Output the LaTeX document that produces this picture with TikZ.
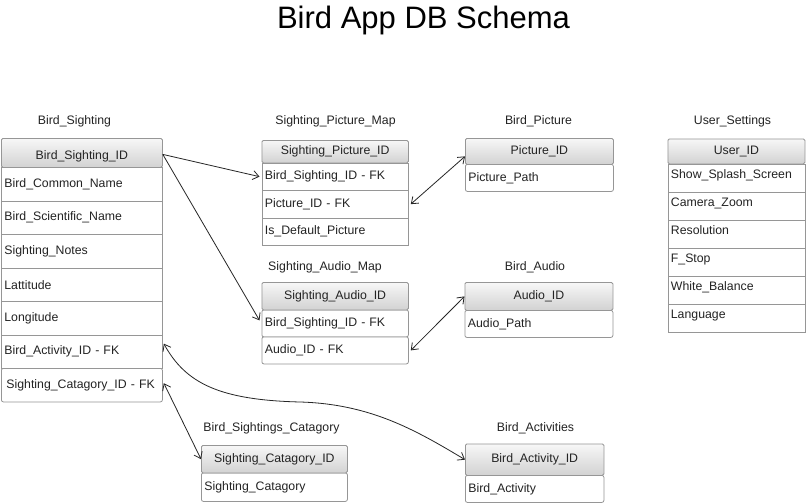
\documentclass[tikz,border=0pt]{standalone}
\usepackage{fontspec}
\setmainfont{Liberation Sans}
\usetikzlibrary{arrows.meta}
\definecolor{bd}{RGB}{150,150,150}
\definecolor{txt}{RGB}{35,35,35}
\definecolor{htop}{RGB}{247,247,247}
\definecolor{hbot}{RGB}{210,210,210}
\tikzset{
  base/.style={draw=bd, anchor=north west, inner xsep=3pt, inner ysep=0pt,
    font=\fontsize{12.3}{14}\selectfont, text=txt, line width=0.8pt},
  hdr/.style 2 args={base, top color=htop, bottom color=hbot, rounded corners=1.5pt,
    minimum width=#1, minimum height=#2, align=center},
  fld/.style 2 args={base, fill=white, minimum width=#1, minimum height=#2,
    text width=#1-6, align=left},
  lastfld/.style 2 args={fld={#1}{#2}, rounded corners=2pt},
  usfld/.style={fld={137}{28}, text height=9pt, text depth=7pt},
  tname/.style={font=\fontsize{12.3}{14}\selectfont, text=txt, inner sep=0pt},
  conn/.style={draw=black!85, line width=0.8pt, >={Straight Barb[length=6pt,width=9pt]}}
}
\begin{document}
\begin{tikzpicture}[x=1pt,y=-1pt]
\useasboundingbox (0,0) rectangle (806,503);
\fill[white] (0,0) rectangle (806,503);

\node[font=\fontsize{31}{36}\selectfont, text=black] (title) at (423.5,20) {Bird App DB Schema};

% table names
\node[tname] (nbs)  at (74.5,121) {Bird\_Sighting};
\node[tname] (nspm) at (335.5,121) {Sighting\_Picture\_Map};
\node[tname] (nbp)  at (538.5,121) {Bird\_Picture};
\node[tname] (nus)  at (732.5,121) {User\_Settings};
\node[tname] (nsam) at (325,267) {Sighting\_Audio\_Map};
\node[tname] (nba)  at (535,267) {Bird\_Audio};
\node[tname] (nbsc) at (271.5,428) {Bird\_Sightings\_Catagory};
\node[tname] (nbac) at (535.5,428) {Bird\_Activities};

% Bird_Sighting
\node[fld={161}{33.5}] (bs1) at (1,167) {Bird\_Common\_Name};
\node[fld={161}{33.5}] (bs2) at (1,200.5) {Bird\_Scientific\_Name};
\node[fld={161}{33.5}] (bs3) at (1,234) {Sighting\_Notes};
\node[fld={161}{33.5}] (bs4) at (1,267.5) {Lattitude};
\node[fld={161}{33.5}] (bs5) at (1,301) {Longitude};
\node[fld={161}{33.5}] (bs6) at (1,334.5) {Bird\_Activity\_ID - FK};
\node[lastfld={161}{33.5}] (bs7) at (1,368) {\hspace*{2pt}Sighting\_Catagory\_ID - FK};
\node[hdr={161}{29}, text height=17pt, text depth=3pt] (bsh) at (1,138) {Bird\_Sighting\_ID};

% Sighting_Picture_Map
\node[fld={146.5}{27.5}] (spm1) at (261.5,162.5) {Bird\_Sighting\_ID - FK};
\node[fld={146.5}{27.5}] (spm2) at (261.5,190) {Picture\_ID - FK};
\node[fld={146.5}{27.5}] (spm3) at (261.5,217.5) {Is\_Default\_Picture};
\node[hdr={146.5}{22.5}] (spmh) at (261.5,140) {Sighting\_Picture\_ID};

% Bird_Picture
\node[lastfld={148}{27}] (bp1) at (465,164) {Picture\_Path};
\node[hdr={148}{26}] (bph) at (465,138) {Picture\_ID};

% Sighting_Audio_Map
\node[lastfld={146.5}{27}] (sam1) at (261.5,309.5) {Bird\_Sighting\_ID - FK};
\node[lastfld={146.5}{27}] (sam2) at (261.5,336.5) {Audio\_ID - FK};
\node[hdr={146.5}{27.5}] (samh) at (261.5,282) {Sighting\_Audio\_ID};

% Bird_Audio
\node[lastfld={148}{27}] (ba1) at (464.5,310) {Audio\_Path};
\node[hdr={148}{28}] (bah) at (464.5,282) {Audio\_ID};

% User_Settings
\node[usfld] (us1) at (667.5,163.5) {Show\_Splash\_Screen};
\node[usfld] (us2) at (667.5,191.5) {Camera\_Zoom};
\node[usfld] (us3) at (667.5,219.5) {Resolution};
\node[usfld] (us4) at (667.5,247.5) {F\_Stop};
\node[usfld] (us5) at (667.5,275.5) {White\_Balance};
\node[usfld] (us6) at (667.5,303.5) {Language};
\node[hdr={137}{25}] (ush) at (667.5,138.5) {User\_ID};

% Bird_Sightings_Catagory
\node[lastfld={146}{28.5}] (bsc1) at (201,472.5) {Sighting\_Catagory};
\node[hdr={146}{27.5}] (bsch) at (201,445) {Sighting\_Catagory\_ID};

% Bird_Activities
\node[lastfld={138.5}{27}] (bac1) at (465,475) {Bird\_Activity};
\node[hdr={138.5}{31.5}] (bach) at (465,443.5) {Bird\_Activity\_ID};

% connectors
\draw[conn,->] ([yshift=-1.5pt]bsh.east) -- ([xshift=-2pt]spm1.west);
\draw[conn,->] ([yshift=-1.5pt]bsh.east) -- ([xshift=-2pt,yshift=3pt]sam1.west);
\draw[conn,<->] ([xshift=2pt]spm2.east) -- ([yshift=-5pt]bph.west);
\draw[conn,<->] ([xshift=2pt]sam2.east) -- (bah.west);
\coordinate (cmid) at (300,402);
\draw[conn,<->] ([xshift=1pt,yshift=8pt]bs6.east) .. controls +(22,40) and +(-80,-2) .. (cmid)
   .. controls +(70,2) and +(-50,-30) .. (bach.west);
\draw[conn,<->] ([xshift=1pt,yshift=2pt]bs7.east) -- (bsch.west);
\end{tikzpicture}
\end{document}
